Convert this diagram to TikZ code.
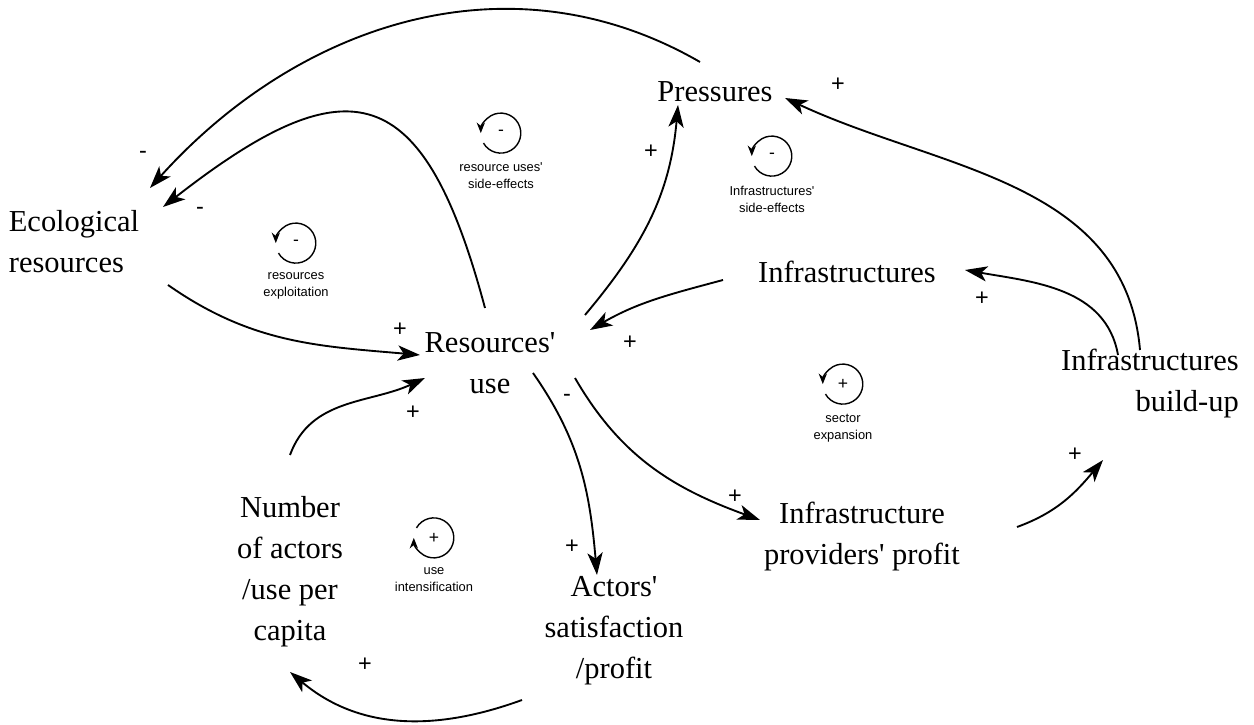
\documentclass[tikz,border=0pt]{standalone}
\usepackage{fontspec}
\setmainfont{Liberation Serif}
\setsansfont{Liberation Sans}
\usetikzlibrary{arrows.meta,positioning,calc}

\begin{document}
\begin{tikzpicture}[x=0.03cm,y=0.03cm,>={Stealth[length=19pt,width=13pt,inset=5pt]},
	var/.style={font=\fontsize{26}{35}\selectfont,align=center,inner sep=5pt},
	link/.style={->,line width=1.6pt},
	sgn/.style={font=\sffamily\fontsize{20}{20}\selectfont,inner sep=1pt},
	loopnode/.style={circle,minimum size=1.2cm,inner sep=0pt,font=\sffamily\fontsize{15}{15}\selectfont},
	looparc/.style={line width=1.2pt,-{Stealth[length=9pt,width=7pt]}},
	looptxt/.style={font=\sffamily\fontsize{11}{14.5}\selectfont,align=center,inner sep=1pt}]
		\useasboundingbox (0,0) rectangle (1254,724);
		% variables
		\node [var] (pres) at (715,632) {Pressures};
		\node [var,align=left] (eco) at (74,482) {Ecological\\resources};
		\node [var] (infra) at (847,452) {Infrastructures};
		\node [var] (use) at (490,361) {Resources\textquotesingle\\use};
		\node [var,align=right] (build) at (1150,340) {Infrastructures\\build-up};
		\node [var] (prof) at (862,187) {Infrastructure\\providers\textquotesingle{} profit};
		\node [var] (act) at (614,93) {Actors\textquotesingle\\satisfaction\\/profit};
		\node [var] (num) at (290,152) {Number\\of actors\\/use per\\capita};
		% loops
		\node [loopnode] (lside) at (501,591) {-};
		\node [looptxt,below=7pt of lside] (lsidet) {resource uses\textquotesingle\\side-effects};
		\node [loopnode] (lexpl) at (296,481) {-};
		\node [looptxt,below=7pt of lexpl] (lexplt) {resources\\exploitation};
		\node [loopnode] (linfr) at (772,568) {-};
		\node [looptxt,below=7pt of linfr] (linfrt) {Infrastructures\textquotesingle\\side-effects};
		\node [loopnode] (lsect) at (843,340) {+};
		\node [looptxt,below=7pt of lsect] (lsectt) {sector\\expansion};
		\node [loopnode] (lint) at (434,186) {+};
		\node [looptxt,below=7pt of lint] (lintt) {use\\intensification};
		\draw[looparc] (lside.210) arc[start angle=210,end angle=540,radius=0.6cm];
		\draw[looparc] (lexpl.210) arc[start angle=210,end angle=540,radius=0.6cm];
		\draw[looparc] (linfr.210) arc[start angle=210,end angle=540,radius=0.6cm];
		\draw[looparc] (lsect.210) arc[start angle=210,end angle=540,radius=0.6cm];
		\draw[looparc] (lint.150) arc[start angle=150,end angle=-180,radius=0.6cm];
		% signs
		\node [sgn] (s1) at (143,569) {-};
		\node [sgn] (s2) at (200,513) {-};
		\node [sgn] (s3) at (651,572) {+};
		\node [sgn] (s4) at (838,639) {+};
		\node [sgn] (s5) at (982,425) {+};
		\node [sgn] (s6) at (630,381) {+};
		\node [sgn] (s7) at (400,394) {+};
		\node [sgn] (s8) at (413,311) {+};
		\node [sgn] (s9) at (567,326) {-};
		\node [sgn] (s10) at (572,177) {+};
		\node [sgn] (s11) at (735,227) {+};
		\node [sgn] (s12) at (1075,269) {+};
		\node [sgn] (s13) at (365,59) {+};
		% links
		\draw[link] ($(pres)+(-15,30)$) to[out=150,in=48] ($(eco)+(76,54)$);
		\draw[link] ($(use)+(-5,55)$) to[out=105,in=38,looseness=1.8] ($(eco)+(89,35)$);
		\draw[link] ($(eco)+(94,-43)$) to[out=-35,in=175] ($(use)+(-70,8)$);
		\draw[link] ($(use)+(95,48)$) to[out=50,in=-95] ($(pres)+(-37,-13)$);
		\draw[link] ($(infra)+(-124,-8)$) to[out=195,in=30] ($(use)+(100,33)$);
		\draw[link] ($(build)+(-32,29)$) to[out=100,in=-10] ($(infra)+(118,2)$);
		\draw[link] ($(build)+(-10,34)$) to[out=95,in=-25] ($(pres)+(70,-6)$);
		\draw[link] ($(num)+(0,117)$) to[out=70,in=205] ($(use)+(-65,-15)$);
		\draw[link] ($(use)+(43,-10)$) to[out=-55,in=95] ($(act)+(-17,56)$);
		\draw[link] ($(use)+(85,-15)$) to[out=-60,in=160] ($(prof)+(-102,17)$);
		\draw[link] ($(prof)+(155,10)$) to[out=20,in=230] ($(build)+(-47,-76)$);
		\draw[link] ($(act)+(-92,-69)$) to[out=200,in=-40] ($(num)+(0,-100)$);
	\end{tikzpicture}
\end{document}
